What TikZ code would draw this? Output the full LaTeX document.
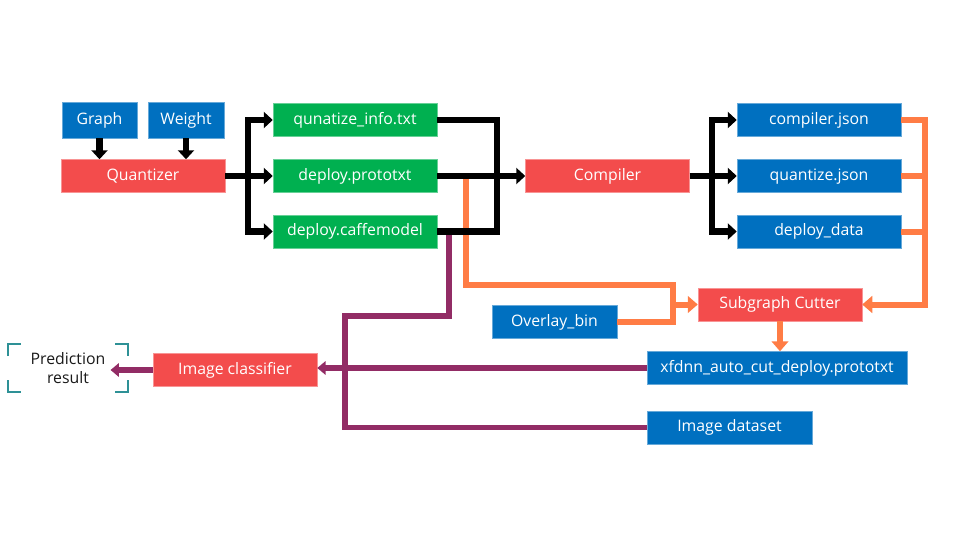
\documentclass[tikz,border=0pt]{standalone}
\usepackage{fontspec}
\setmainfont{Open Sans}
\usepackage{xcolor}
\usetikzlibrary{arrows.meta,positioning,calc}

\definecolor{boxblue}{HTML}{0070C0}
\definecolor{boxred}{HTML}{F34C4C}
\definecolor{boxgreen}{HTML}{00B050}
\definecolor{lineorange}{HTML}{FF7C45}
\definecolor{linepurple}{HTML}{922C65}
\definecolor{bracketteal}{HTML}{2E9196}

\begin{document}
\begin{tikzpicture}[
  x=0.03cm, y=-0.03cm,
  box/.style={rectangle, minimum width=4.92cm, minimum height=0.99cm,
              inner sep=0pt, align=center, text=white,
              text height=0.714em, text depth=0pt,
              font=\fontsize{13.5}{15}\selectfont},
  bluebox/.style={box, fill=boxblue, draw=boxblue!60!white, line width=0.4pt},
  redbox/.style={box, fill=boxred, draw=boxred!60!white, line width=0.4pt},
  greenbox/.style={box, fill=boxgreen, draw=boxgreen!60!white, line width=0.4pt},
  bline/.style={draw=black, line width=0.2cm},
  bflow/.style={bline, -{Triangle[length=0.27cm, width=0.48cm]}},
  oline/.style={draw=lineorange, line width=0.18cm},
  oflow/.style={oline, -{Triangle[length=0.3cm, width=0.5cm]}},
  pline/.style={draw=linepurple, line width=0.17cm},
  pflow/.style={pline, -{Triangle[length=0.25cm, width=0.4cm]}},
  bracket/.style={draw=bracketteal, line width=0.08cm},
]
  \useasboundingbox (0,0) rectangle (960,540);

  % ===== Inputs and quantizer =====
  \node[bluebox, minimum width=2.25cm, minimum height=1.08cm] (graph) at (99.5,120) {Graph};
  \node[bluebox, minimum width=2.28cm, minimum height=1.08cm] (weight) at (186,120) {Weight};
  \node[redbox] (quant) at (143,176) {Quantizer};

  % ===== Quantizer outputs =====
  \node[greenbox] (qinfo) at (355,120) {qunatize\_info.txt};
  \node[greenbox] (proto) at (355,176) {deploy.prototxt};
  \node[greenbox] (caffe) at (355,231.5) {deploy.caffemodel};

  % ===== Compiler and its outputs =====
  \node[redbox] (comp) at (607.5,176) {Compiler};
  \node[bluebox] (cjson) at (819,120) {compiler.json};
  \node[bluebox] (qjson) at (819,176) {quantize.json};
  \node[bluebox] (ddata) at (819,231.5) {deploy\_data};

  % ===== Subgraph cutting =====
  \node[redbox] (cutter) at (780,304.5) {Subgraph Cutter};
  \node[bluebox, minimum width=3.75cm] (overlay) at (554.5,322) {Overlay\_bin};
  \node[bluebox, minimum width=7.8cm] (xfdnn) at (777,368) {xfdnn\_auto\_cut\_deploy.prototxt};
  \node[bluebox, minimum width=4.95cm] (dataset) at (729.5,427.5) {Image dataset};

  % ===== Classification =====
  \node[redbox] (classifier) at (235,370) {Image classifier};
  \node[align=center, inner xsep=0.15cm, font=\fontsize{13.5}{16.5}\selectfont,
        text=black!90] (pred) at (68,368) {Prediction\\result};

  % brackets round the result
  \draw[bracket] (8,356) -- (8,344) -- (21,344);
  \draw[bracket] (115,344) -- (128,344) -- (128,356);
  \draw[bracket] (8,380) -- (8,392) -- (21,392);
  \draw[bracket] (115,392) -- (128,392) -- (128,380);

  % ===== Junction points =====
  \coordinate (qsplit) at (248,176);
  \coordinate (pmerge) at (497,176);
  \coordinate (csplit) at (712,176);
  \coordinate (jmerge) at (925,304.5);
  \coordinate (otap) at (465.5,176);
  \coordinate (obend) at (673,285);
  \coordinate (ojoin) at (obend |- cutter.west);
  \coordinate (ptap) at (449,231.5);
  \coordinate (pbend) at (345,316);

  % ===== Orange edges (under the black ones) =====
  \draw[oline] (otap) |- (obend) |- (overlay.east);
  \draw[oflow] (ojoin) -- (cutter.west);
  \draw[oflow] (cjson.east) -| (jmerge) -- (cutter.east);
  \draw[oline] (qjson.east) -- (qjson.east -| jmerge);
  \draw[oline] (ddata.east) -- (ddata.east -| jmerge);
  \draw[oflow] (cutter.south) -- (cutter.south |- xfdnn.north);

  % ===== Purple edges =====
  \draw[pline] (ptap) |- (pbend) |- (dataset.west);
  \draw[pflow] (xfdnn.west) -- (classifier.east |- xfdnn.west);
  \draw[pflow] (classifier.west) -- (pred.east |- classifier.west);

  % ===== Black edges =====
  \draw[bflow] (graph.south) -- (graph.south |- quant.north);
  \draw[bflow] (weight.south) -- (weight.south |- quant.north);

  \draw[bline] (quant.east) -- (qsplit);
  \draw[bflow] (qsplit) |- (qinfo.west);
  \draw[bflow] (qsplit) -- (proto.west);
  \draw[bflow] (qsplit) |- (caffe.west);

  \draw[bline] (qinfo.east) -| (pmerge);
  \draw[bline] (caffe.east) -| (pmerge);
  \draw[bflow] (proto.east) -- (comp.west);

  \draw[bline] (comp.east) -- (csplit);
  \draw[bflow] (csplit) |- (cjson.west);
  \draw[bflow] (csplit) -- (qjson.west);
  \draw[bflow] (csplit) |- (ddata.west);

\end{tikzpicture}
\end{document}
